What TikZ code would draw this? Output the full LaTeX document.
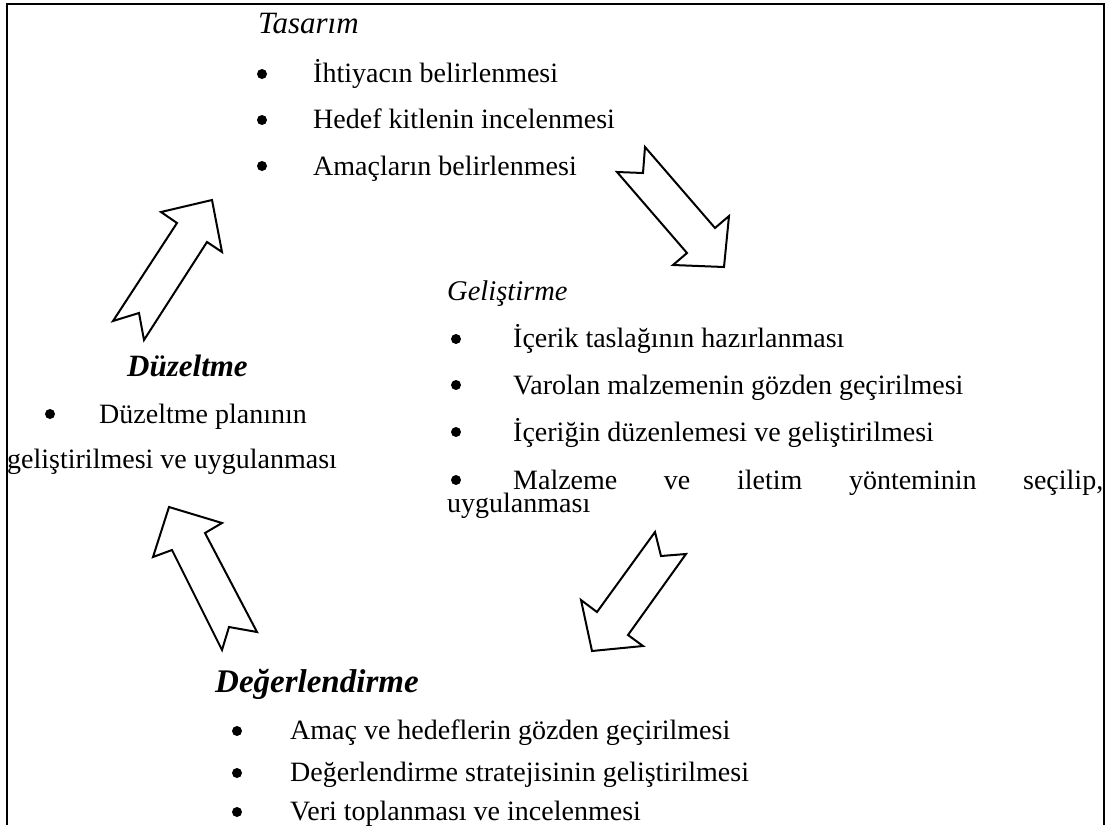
\documentclass[tikz,border=0pt]{standalone}
\usepackage{fontspec}
\setmainfont{Liberation Serif}
\begin{document}
\begin{tikzpicture}[x=1pt,y=-1pt,
  body/.style={anchor=base west,inner sep=0pt,font=\fontsize{28}{34}\selectfont},
  dot/.style={circle,fill=black,inner sep=0pt,minimum size=10pt},
  ttl/.style={anchor=base west,inner sep=0pt,font=\fontsize{30}{36}\selectfont\itshape},
  bttl/.style={anchor=base west,inner sep=0pt,font=\fontsize{31}{36}\selectfont\bfseries\itshape},
  frame/.style={draw=black,line width=2.2pt},
  blockarrow/.style={draw=black,line width=2pt,fill=white,line join=miter}]
\useasboundingbox (0,0) rectangle (1106,825);
% frame (open at the bottom)
\draw[frame] (7,825) -- (7,4) -- (1104,4) -- (1104,825);

% Tasarim
\node[ttl,font=\fontsize{31}{36}\selectfont\itshape] (tas) at (258,33) {Tasarım};
\node[dot] (tb1) at (262,74) {};
\node[body] (t1) at (313,82) {İhtiyacın belirlenmesi};
\node[dot] (tb2) at (262,120) {};
\node[body] (t2) at (313,128) {Hedef kitlenin incelenmesi};
\node[dot] (tb3) at (262,166) {};
\node[body] (t3) at (313,175) {Amaçların belirlenmesi};

% Gelistirme
\node[ttl,font=\fontsize{28.5}{34}\selectfont\itshape] (gel) at (447,300) {Geliştirme};
\node[dot] (gb1) at (456,339) {};
\node[body] (g1) at (513,347) {İçerik taslağının hazırlanması};
\node[dot] (gb2) at (456,385) {};
\node[body] (g2) at (513,394) {Varolan malzemenin gözden geçirilmesi};
\node[dot] (gb3) at (456,432) {};
\node[body] (g3) at (513,441) {İçeriğin düzenlemesi ve geliştirilmesi};
\node[dot] (gb4) at (456,480) {};
\node[body,align=left] (g4) at (447,512)
  {\hspace*{66pt}\makebox[590pt][s]{Malzeme ve iletim yönteminin seçilip,}\\[-11pt]uygulanması};

% Duzeltme
\node[bttl] (duz) at (127,376) {Düzeltme};
\node[dot] (db1) at (50,414) {};
\node[body] (d1) at (99,423) {Düzeltme planının};
\node[body] (d2) at (7,468) {geliştirilmesi ve uygulanması};

% Degerlendirme
\node[bttl,font=\fontsize{33}{38}\selectfont\bfseries\itshape] (deg) at (215,692) {Değerlendirme};
\node[dot] (eb1) at (237,731) {};
\node[body] (e1) at (290,739) {Amaç ve hedeflerin gözden geçirilmesi};
\node[dot] (eb2) at (237,773) {};
\node[body] (e2) at (290,781) {Değerlendirme stratejisinin geliştirilmesi};
\node[dot] (eb3) at (237,812) {};
\node[body] (e3) at (290,820) {Veri toplanması ve incelenmesi};

% block arrows
\draw[blockarrow] (645,147) -- (643,173) -- (617,172) -- (687,253) -- (673,265)
  -- (724,267) -- (729,216) -- (715,228) -- cycle;
\draw[blockarrow] (212,200) -- (161,212) -- (177,223) -- (113,321) -- (139,313)
  -- (144,340) -- (207,242) -- (222,252) -- cycle;
\draw[blockarrow] (169,507) -- (222,523) -- (205,533) -- (257,632) -- (229,627)
  -- (222,650) -- (172,550) -- (153,557) -- cycle;
\draw[blockarrow] (655,532) -- (661,556) -- (686,554) -- (628,635) -- (643,646)
  -- (592,651) -- (581,600) -- (597,612) -- cycle;
\end{tikzpicture}
\end{document}
